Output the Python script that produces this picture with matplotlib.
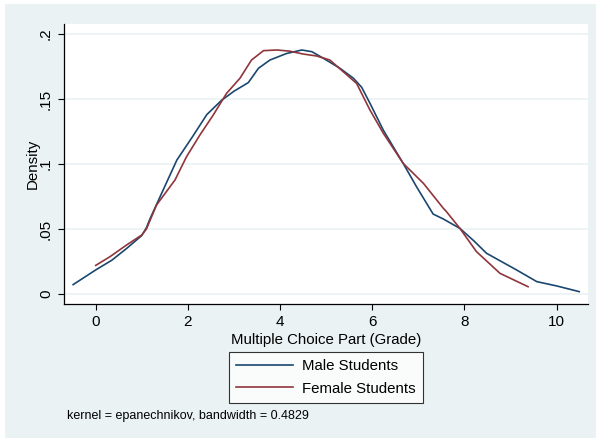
import matplotlib.pyplot as plt
from matplotlib.patches import Rectangle

plt.rcParams['font.family'] = ['Liberation Sans', 'DejaVu Sans']

# Kernel density estimates
male_x = [-0.49, 0.0, 0.35, 0.67, 1.0, 1.1, 1.18, 1.54, 1.76, 2.1, 2.41, 2.73, 3.0,
          3.31, 3.53, 3.78, 4.14, 4.47, 4.69, 4.94, 5.30, 5.59, 5.77, 5.95, 6.24,
          6.67, 6.96, 7.32, 7.54, 7.90, 8.20, 8.48, 9.13, 9.57, 10.0, 10.49]
male_y = [0.0072, 0.0185, 0.026, 0.035, 0.045, 0.051, 0.058, 0.086, 0.103, 0.121,
          0.138, 0.149, 0.156, 0.1626, 0.1736, 0.180, 0.185, 0.1877, 0.1864,
          0.1813, 0.1736, 0.166, 0.159, 0.1467, 0.126, 0.1005, 0.0825, 0.0615,
          0.0577, 0.0505, 0.041, 0.0313, 0.0185, 0.0095, 0.0062, 0.0018]

female_x = [0.0, 0.31, 0.67, 1.0, 1.1, 1.32, 1.72, 1.97, 2.26, 2.55, 2.84, 3.13,
            3.38, 3.64, 3.93, 4.21, 4.50, 4.79, 5.08, 5.37, 5.66, 5.95, 6.24,
            6.67, 7.11, 7.54, 7.61, 7.90, 8.26, 8.77, 9.38]
female_y = [0.022, 0.0287, 0.0377, 0.0454, 0.050, 0.0685, 0.0877, 0.1056, 0.1223,
            0.1377, 0.1544, 0.166, 0.180, 0.1872, 0.1877, 0.1868, 0.1846, 0.1831,
            0.180, 0.171, 0.162, 0.1415, 0.1236, 0.1005, 0.0851, 0.066, 0.0633,
            0.0505, 0.0326, 0.0159, 0.0056]

yticks = [0, 0.05, 0.1, 0.15, 0.2]
ytick_labels = ['0', '.05', '.1', '.15', '.2']
xticks = [0, 2, 4, 6, 8, 10]

bg = '#EAF2F3'
navy = '#1A476F'
maroon = '#90353B'

fig = plt.figure(figsize=(5.96, 4.38), dpi=100, facecolor='white')
fig.patches.append(Rectangle((5 / 596, 0), 1, 1 - 4 / 438, transform=fig.transFigure,
                             facecolor=bg, edgecolor='none', zorder=-10))

ax = fig.add_axes([64 / 596, 1 - 304 / 438, 524 / 596, 280 / 438])
ax.set_facecolor('white')

ax.plot(male_x, male_y, color=navy, lw=1.2, label='Male Students')
ax.plot(female_x, female_y, color=maroon, lw=1.2, label='Female Students')

ax.set_xlim(-0.688, 10.68)
ax.set_ylim(-0.0077, 0.2077)
ax.set_yticks(yticks)
ax.set_yticklabels(ytick_labels, rotation=90, va='center')
ax.set_xticks(xticks)
ax.grid(axis='y', color=bg, lw=1.2)
ax.set_axisbelow(True)

for side in ['top', 'right']:
    ax.spines[side].set_visible(False)
for side in ['left', 'bottom']:
    ax.spines[side].set_color('black')
    ax.spines[side].set_linewidth(0.9)
ax.tick_params(length=4.5, width=0.8, labelsize=11, pad=3.5)

ax.set_xlabel('Multiple Choice Part (Grade)', fontsize=10.8, labelpad=3)
ax.set_ylabel('Density', fontsize=10.8, labelpad=-0.5)

leg = fig.legend(loc='center', bbox_to_anchor=(326 / 596, 1 - 377.5 / 438),
                 fontsize=10.8, frameon=True, fancybox=False, handlelength=3.8,
                 handletextpad=0.6, borderpad=0.5, labelspacing=0.55)
leg.get_frame().set_edgecolor('black')
leg.get_frame().set_linewidth(0.8)

fig.text(67 / 596, 1 - 416 / 438, 'kernel = epanechnikov, bandwidth = 0.4829',
         fontsize=9, va='center', ha='left')

fig.savefig('out.png', dpi=100)
